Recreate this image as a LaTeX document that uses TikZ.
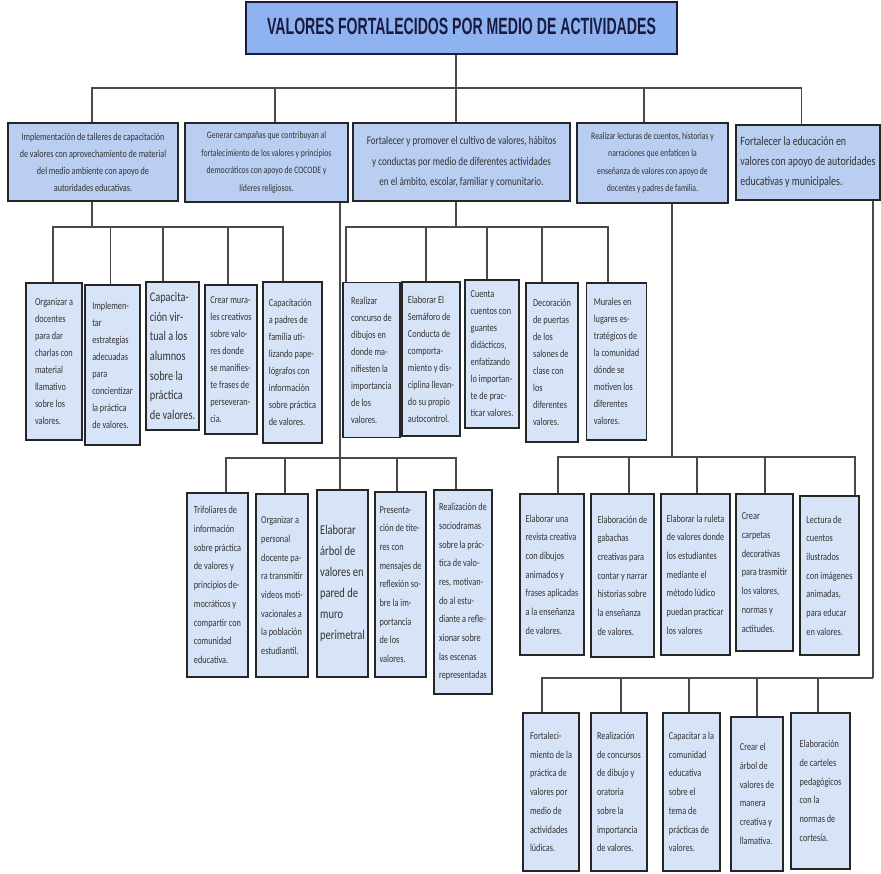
\documentclass[tikz,border=0pt]{standalone}
\usepackage{fontspec}
\setmainfont{Carlito}[FakeStretch=0.78]
\newfontfamily\titlefont[FakeStretch=0.6]{Liberation Sans}
\usepackage{tikz}

\definecolor{headblue}{HTML}{8FB2F0}
\definecolor{branchblue}{HTML}{B9CEF0}
\definecolor{leafblue}{HTML}{D7E4F7}
\definecolor{navy}{HTML}{1B1B40}
\definecolor{linegray}{HTML}{4A4A4A}

\begin{document}
\begin{tikzpicture}[
    x=1pt, y=-1pt,
    every node/.append style = {inner sep=0pt, text=black!80},
    head/.style = {draw=navy, line width=1.3pt, fill=headblue, text=navy,
      font=\titlefont\bfseries\fontsize{23.5}{26}\selectfont},
    branch/.style = {draw=black!85, line width=1.3pt, fill=branchblue, align=center},
    leaf/.style = {draw=black!85, line width=1.3pt, fill=leafblue, align=left,
      font=\fontsize{10.6}{17}\selectfont},
    tall/.style = {font=\fontsize{10.6}{18.7}\selectfont},
    link/.style = {draw=linegray, line width=1.1pt}
  ]
  \useasboundingbox (0,0) rectangle (881,873);

  % title
  \node[head, minimum width=431, minimum height=52] (title) at (461.5,28)
    {\raisebox{3pt}{VALORES FORTALECIDOS POR MEDIO DE ACTIVIDADES}};

  % main activities
  \node[branch, minimum width=170, minimum height=78, font=\fontsize{10.4}{17}\selectfont] (m1) at (93,162)
    {Implementación de talleres de capacitación\\de valores con aprovechamiento de material\\del medio ambiente con apoyo de\\autoridades educativas.};
  \node[branch, minimum width=163, minimum height=79, font=\fontsize{9.9}{17.5}\selectfont] (m2) at (266.5,162.5)
    {Generar campañas que contribuyan al\\fortalecimiento de los valores y principios\\democráticos con apoyo de COCODE y\\líderes religiosos.};
  \node[branch, minimum width=217, minimum height=78, font=\fontsize{11.7}{20.5}\selectfont] (m3) at (461.5,162)
    {Fortalecer y promover el cultivo de valores, hábitos\\y conductas por medio de diferentes actividades\\en el ámbito, escolar, familiar y comunitario.};
  \node[branch, minimum width=151, minimum height=80, font=\fontsize{9.9}{17.5}\selectfont] (m4) at (652.5,163)
    {Realizar lecturas de cuentos, historias y\\narraciones que enfaticen la\\enseñanza de valores con apoyo de\\docentes y padres de familia.};
  \node[branch, align=left, minimum width=144, minimum height=75, font=\fontsize{12.7}{20}\selectfont] (m5) at (808,162.5)
    {Fortalecer la educación en\\valores con apoyo de autoridades\\educativas y municipales.};

  % under m1
  \node[leaf, minimum width=56, minimum height=157] (b1) at (54,361.5)
    {Organizar a\\docentes\\para dar\\charlas con\\material\\llamativo\\sobre los\\valores.};
  \node[leaf, minimum width=55, minimum height=160] (b2) at (112.5,365)
    {Implemen-\\tar\\estrategias\\adecuadas\\para\\concientizar\\la práctica\\de valores.};
  \node[leaf, minimum width=53, minimum height=148, font=\fontsize{13.2}{19.7}\selectfont] (b3) at (172.5,356)
    {Capacita-\\ción vir-\\tual a los\\alumnos\\sobre la\\práctica\\de valores.};
  \node[leaf, minimum width=52, minimum height=149] (b4) at (231,359.5)
    {Crear mura-\\les creativos\\sobre valo-\\res donde\\se manifies-\\te frases de\\perseveran-\\cia.};
  \node[leaf, minimum width=59, minimum height=161] (b5) at (292.5,362.5)
    {Capacitación\\a padres de\\familia uti-\\lizando pape-\\lógrafos con\\información\\sobre práctica\\de valores.};

  % under m2
  \node[leaf, tall, minimum width=61, minimum height=184] (c1) at (217.5,585)
    {Trifoliares de\\información\\sobre práctica\\de valores y\\principios de-\\mocráticos y\\compartir con\\comunidad\\educativa.};
  \node[leaf, tall, minimum width=52, minimum height=183] (c2) at (282,585.5)
    {Organizar a\\personal\\docente pa-\\ra transmitir\\videos moti-\\vacionales a\\la población\\estudiantil.};
  \node[leaf, minimum width=51, minimum height=187, font=\fontsize{13.4}{21}\selectfont] (c3) at (342.5,583.5)
    {Elaborar\\árbol de\\valores en\\pared de\\muro\\perimetral};
  \node[leaf, tall, minimum width=51, minimum height=185] (c4) at (400.5,584.5)
    {Presenta-\\ción de tite-\\res con\\mensajes de\\reflexión so-\\bre la im-\\portancia\\de los\\valores.};
  \node[leaf, tall, minimum width=58, minimum height=204] (c5) at (463,592)
    {Realización de\\sociodramas\\sobre la prác-\\tica de valo-\\res, motivan-\\do al estu-\\diante a refle-\\xionar sobre\\las escenas\\representadas};

  % under m3
  \node[leaf, minimum width=57, minimum height=155] (d1) at (371.5,360)
    {Realizar\\concurso de\\dibujos en\\donde ma-\\nifiesten la\\importancia\\de los\\valores.};
  \node[leaf, minimum width=58, minimum height=154] (d2) at (431,359)
    {Elaborar El\\Semáforo de\\Conducta de\\comporta-\\miento y dis-\\ciplina llevan-\\do su propio\\autocontrol.};
  \node[leaf, minimum width=54, minimum height=148] (d3) at (492,354)
    {Cuenta\\cuentos con\\guantes\\didácticos,\\enfatizando\\lo importan-\\te de prac-\\ticar valores.};
  \node[leaf, minimum width=52, minimum height=159] (d4) at (552,362.5)
    {Decoración\\de puertas\\de los\\salones de\\clase con\\los\\diferentes\\valores.};
  \node[leaf, minimum width=60, minimum height=157] (d5) at (616.5,361.5)
    {Murales en\\lugares es-\\tratégicos de\\la comunidad\\dónde se\\motiven los\\diferentes\\valores.};

  % under m4
  \node[leaf, tall, minimum width=64, minimum height=161] (e1) at (552,574.5)
    {Elaborar una\\revista creativa\\con dibujos\\animados y\\frases aplicadas\\a la enseñanza\\de valores.};
  \node[leaf, tall, minimum width=63, minimum height=163] (e2) at (622.5,575.5)
    {Elaboración de\\gabachas\\creativas para\\contar y narrar\\historias sobre\\la enseñanza\\de valores.};
  \node[leaf, tall, minimum width=69, minimum height=161] (e3) at (695.5,574.5)
    {Elaborar la ruleta\\de valores donde\\los estudiantes\\mediante el\\método lúdico\\puedan practicar\\los valores};
  \node[leaf, tall, minimum width=57, minimum height=157] (e4) at (764.5,572.5)
    {Crear\\carpetas\\decorativas\\para trasmitir\\los valores,\\normas y\\actitudes.};
  \node[leaf, tall, minimum width=59, minimum height=159] (e5) at (829.5,575.5)
    {Lectura de\\cuentos\\ilustrados\\con imágenes\\animadas,\\para educar\\en valores.};

  % under m5
  \node[leaf, tall, minimum width=56, minimum height=158] (f1) at (551,792)
    {Fortaleci-\\miento de la\\práctica de\\valores por\\medio de\\actividades\\lúdicas.};
  \node[leaf, tall, minimum width=56, minimum height=158] (f2) at (619,792)
    {Realización\\de concursos\\de dibujo y\\oratoria\\sobre la\\importancia\\de valores.};
  \node[leaf, tall, minimum width=57, minimum height=158] (f3) at (691.5,792)
    {Capacitar a la\\comunidad\\educativa\\sobre el\\tema de\\prácticas de\\valores.};
  \node[leaf, tall, minimum width=52, minimum height=154] (f4) at (757,794)
    {Crear el\\árbol de\\valores de\\manera\\creativa y\\llamativa.};
  \node[leaf, tall, minimum width=59, minimum height=156] (f5) at (820.5,791)
    {Elaboración\\de carteles\\pedagógicos\\con la\\normas de\\cortesía.};

  % connectors
  \coordinate (jT) at (456,88);
  \draw[link] (title.south -| jT) -- (jT);
  \foreach \n/\dx in {m1/-1pt, m2/8.5pt, m3/-5.5pt, m4/-8.5pt, m5/-6.5pt}
    \draw[link] (jT) -| ([xshift=\dx]\n.north);

  \coordinate (jB) at (92,227);
  \draw[link] (jB |- m1.south) -- (jB);
  \foreach \n/\dx in {b1/-1pt, b2/-2pt, b3/-9.5pt, b4/-3pt, b5/-9.5pt}
    \draw[link] (jB) -| ([xshift=\dx]\n.north);

  \coordinate (jC) at (340,458);
  \draw[link] (jC |- m2.south) -- (jC);
  \foreach \n/\dx in {c1/8.5pt, c2/3pt, c3/-2.5pt, c4/-3.5pt, c5/-7pt}
    \draw[link] (jC) -| ([xshift=\dx]\n.north);

  \coordinate (jD) at (456,227);
  \draw[link] (jD |- m3.south) -- (jD);
  \foreach \n/\dx in {d1/-25.5pt, d2/-5pt, d3/-5pt, d4/-10pt, d5/-8.5pt}
    \draw[link] (jD) -| ([xshift=\dx]\n.north);

  \coordinate (jE) at (672,457);
  \draw[link] (jE |- m4.south) -- (jE);
  \foreach \n/\dx in {e1/6pt, e2/6.5pt, e3/1.5pt, e4/0.5pt, e5/25.5pt}
    \draw[link] (jE) -| ([xshift=\dx]\n.north);

  \coordinate (jF) at (873,678);
  \draw[link] (jF |- m5.south) -- (jF);
  \foreach \n/\dx in {f1/-9pt, f2/2pt, f3/-2.5pt, f4/0pt, f5/-2.5pt}
    \draw[link] (jF) -| ([xshift=\dx]\n.north);
\end{tikzpicture}
\end{document}
